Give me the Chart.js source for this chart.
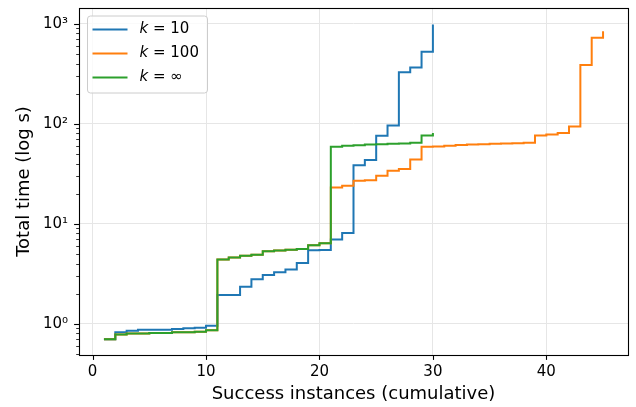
<!DOCTYPE html>
<html>
<head>
<meta charset="utf-8">
<script src="https://cdn.jsdelivr.net/npm/chart.js@4.4.0/dist/chart.umd.min.js"></script>
<style>
  body { margin: 0; background: #fff; }
  canvas { display: block; }
</style>
</head>
<body>
<canvas id="stepChart" width="636" height="407"></canvas>
<script>
// cumulative number of solved instances
const instances = [1, 2, 3, 4, 5, 6, 7, 8, 9, 10, 11, 12, 13, 14, 15, 16, 17, 18, 19, 20,
  21, 22, 23, 24, 25, 26, 27, 28, 29, 30, 31, 32, 33, 34, 35, 36, 37, 38, 39, 40,
  41, 42, 43, 44, 45];

// total time (s) per series
const timesK10 = [0.70, 0.82, 0.85, 0.87, 0.87, 0.87, 0.885, 0.90, 0.91, 0.955,
  1.94, 1.94, 2.35, 2.78, 3.07, 3.28, 3.49, 4.06, 5.43, 5.45,
  6.94, 8.07, 38.4, 43.5, 76, 96, 327, 365, 526, 985];
const timesK100 = [0.70, 0.78, 0.80, 0.80, 0.81, 0.81, 0.82, 0.82, 0.83, 0.86,
  4.39, 4.6, 4.8, 4.9, 5.3, 5.4, 5.5, 5.6, 6.1, 6.4,
  23.1, 24, 26.9, 27.3, 30.2, 33.9, 35.2, 43.9, 59, 59.2,
  60.3, 61.5, 62, 62.5, 63, 63.5, 64, 64.5, 76.5, 78.3,
  81, 94, 388, 724, 844];
const timesKinf = [0.70, 0.78, 0.80, 0.80, 0.81, 0.81, 0.82, 0.82, 0.83, 0.86,
  4.39, 4.6, 4.8, 4.9, 5.3, 5.4, 5.5, 5.6, 6.1, 6.4,
  59, 60.3, 61, 62, 62.5, 63, 63.5, 64.5, 76.5, 81];

const seriesLabels = ['k = 10', 'k = 100', 'k = \u221e'];
const seriesColors = ['#1f77b4', '#ff7f0e', '#2ca02c'];

const xTickValues = [0, 10, 20, 30, 40];
const yTickValues = [1, 10, 100, 1000];
const yTickLabels = ['10\u2070', '10\u00b9', '10\u00b2', '10\u00b3'];

function toPoints(times) {
  return times.map((t, i) => ({ x: instances[i], y: t }));
}

// frame, tick marks and the legend (drawn by hand, matplotlib style)
const axisDecor = {
  id: 'axisDecor',
  afterDraw(chart) {
    const ctx = chart.ctx;
    const a = chart.chartArea;
    const xs = chart.scales.x;
    const ys = chart.scales.y;
    ctx.save();
    ctx.strokeStyle = '#000';

    // x major ticks
    ctx.lineWidth = 1.1;
    xTickValues.forEach(v => {
      const px = Math.round(xs.getPixelForValue(v)) + 0.5;
      ctx.beginPath();
      ctx.moveTo(px, a.bottom);
      ctx.lineTo(px, a.bottom + 4.9);
      ctx.stroke();
    });
    // y major ticks
    yTickValues.forEach(v => {
      const py = Math.round(ys.getPixelForValue(v)) + 0.5;
      ctx.beginPath();
      ctx.moveTo(a.left - 4.9, py);
      ctx.lineTo(a.left, py);
      ctx.stroke();
    });
    // y minor ticks
    ctx.lineWidth = 0.8;
    [0.1, 1, 10, 100, 1000].forEach(dec => {
      for (let m = 2; m <= 9; m++) {
        const v = m * dec;
        if (v < ys.min || v > ys.max) continue;
        const py = Math.round(ys.getPixelForValue(v)) + 0.5;
        ctx.beginPath();
        ctx.moveTo(a.left - 2.8, py);
        ctx.lineTo(a.left, py);
        ctx.stroke();
      }
    });

    // frame
    ctx.lineWidth = 1.1;
    ctx.strokeRect(Math.round(a.left) + 0.5, Math.round(a.top) + 0.5,
      Math.round(a.right - a.left), Math.round(a.bottom - a.top));

    // legend
    const bx = a.left + 8.5, by = a.top + 8, bw = 120, bh = 77, r = 3;
    ctx.beginPath();
    ctx.moveTo(bx + r, by);
    ctx.arcTo(bx + bw, by, bx + bw, by + bh, r);
    ctx.arcTo(bx + bw, by + bh, bx, by + bh, r);
    ctx.arcTo(bx, by + bh, bx, by, r);
    ctx.arcTo(bx, by, bx + bw, by, r);
    ctx.closePath();
    ctx.fillStyle = 'rgba(255,255,255,0.8)';
    ctx.fill();
    ctx.strokeStyle = '#cccccc';
    ctx.lineWidth = 1;
    ctx.stroke();

    ctx.textBaseline = 'middle';
    ctx.fillStyle = '#000';
    seriesLabels.forEach((lab, i) => {
      const ly = by + 13.5 + i * 24;
      ctx.strokeStyle = seriesColors[i];
      ctx.lineWidth = 2;
      ctx.beginPath();
      ctx.moveTo(bx + 5, ly);
      ctx.lineTo(bx + 40, ly);
      ctx.stroke();
      let tx = bx + 52;
      ctx.font = 'italic 15px "DejaVu Sans"';
      ctx.fillText(lab[0], tx, ly);
      tx += ctx.measureText(lab[0]).width;
      ctx.font = '15px "DejaVu Sans"';
      ctx.fillText(lab.slice(1), tx, ly);
    });
    ctx.restore();
  }
};

const chrt = document.getElementById('stepChart').getContext('2d');
const stepChart = new Chart(chrt, {
  type: 'line',
  data: {
    datasets: [
      { label: seriesLabels[0], data: toPoints(timesK10), borderColor: seriesColors[0], order: 3 },
      { label: seriesLabels[1], data: toPoints(timesK100), borderColor: seriesColors[1], order: 2 },
      { label: seriesLabels[2], data: toPoints(timesKinf), borderColor: seriesColors[2], order: 1 }
    ]
  },
  options: {
    responsive: false,
    animation: false,
    layout: { padding: { left: 0, right: 8, top: 8, bottom: 0 } },
    elements: {
      line: { borderWidth: 2, stepped: 'before', tension: 0, fill: false },
      point: { radius: 0, hoverRadius: 0 }
    },
    plugins: {
      legend: { display: false },
      tooltip: { enabled: false }
    },
    scales: {
      x: {
        type: 'linear',
        min: -1.2,
        max: 47.2,
        afterBuildTicks: scale => { scale.ticks = xTickValues.map(v => ({ value: v })); },
        afterFit: scale => {
          scale.height = 52;
          scale.paddingLeft = 0;
          scale.paddingRight = 0;
        },
        grid: { color: '#e6e6e6', lineWidth: 1, drawTicks: false },
        border: { display: false },
        ticks: {
          autoSkip: false,
          maxRotation: 0,
          padding: 8,
          color: '#000',
          font: { family: 'DejaVu Sans', size: 15 }
        },
        title: {
          display: true,
          text: 'Success instances (cumulative)',
          color: '#000',
          font: { family: 'DejaVu Sans', size: 18 },
          padding: { top: 0, bottom: 1.5 }
        }
      },
      y: {
        type: 'logarithmic',
        min: 0.487,
        max: 1438,
        afterBuildTicks: scale => { scale.ticks = yTickValues.map(v => ({ value: v })); },
        afterFit: scale => {
          scale.width = 79;
          scale.paddingTop = 0;
          scale.paddingBottom = 0;
        },
        grid: { color: '#e6e6e6', lineWidth: 1, drawTicks: false },
        border: { display: false },
        ticks: {
          autoSkip: false,
          padding: 11,
          color: '#000',
          font: { family: 'DejaVu Sans', size: 15 },
          callback: function (value) {
            const idx = yTickValues.indexOf(value);
            return idx >= 0 ? yTickLabels[idx] : '';
          }
        },
        title: {
          display: true,
          text: 'Total time (log s)',
          color: '#000',
          font: { family: 'DejaVu Sans', size: 18 },
          padding: { top: 14, bottom: 0 }
        }
      }
    }
  },
  plugins: [axisDecor]
});
</script>
</body>
</html>
